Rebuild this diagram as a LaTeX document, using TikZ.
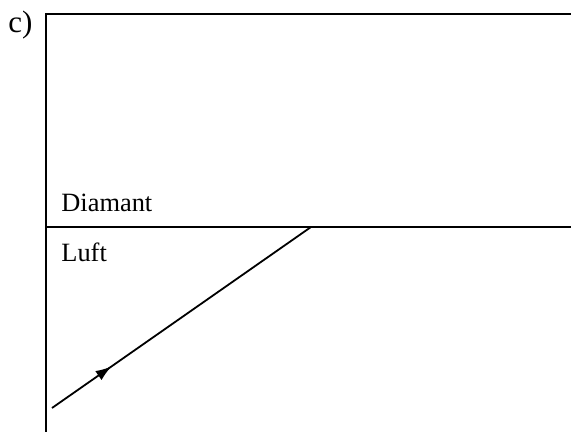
\documentclass[tikz,border=0pt]{standalone}
\usepackage{fontspec}
\setmainfont{Liberation Serif}
\usetikzlibrary{arrows.meta,decorations.markings}
\tikzset{
  frame/.style={line width=1pt},
  lbl/.style={anchor=base west,inner sep=0pt,font=\fontsize{13.2}{15}\selectfont},
  partlbl/.style={anchor=base west,inner sep=0pt,font=\fontsize{15.5}{18}\selectfont},
  ray/.style={line width=0.9pt,postaction={decorate},decoration={markings,mark=at position 0.23 with {\arrow{Latex[length=8pt,width=5.5pt]}}}}
}
\begin{document}
\begin{tikzpicture}[x=0.5pt,y=-0.5pt]
\useasboundingbox (0,0) rectangle (571,432);
\clip (0,0) rectangle (571,432);
\node[partlbl] (c) at (8,33) {c)};
\draw[frame] (46,440) -- (46,14) -- (580,14);
\draw[frame] (46,227) -- (580,227);
\node[lbl] (dia) at (61,212) {Diamant};
\node[lbl] (luft) at (61,262) {Luft};
\coordinate (start) at (52,408);
\coordinate (hit) at (311,227);
\draw[ray] (start) -- (hit);
\end{tikzpicture}
\end{document}
